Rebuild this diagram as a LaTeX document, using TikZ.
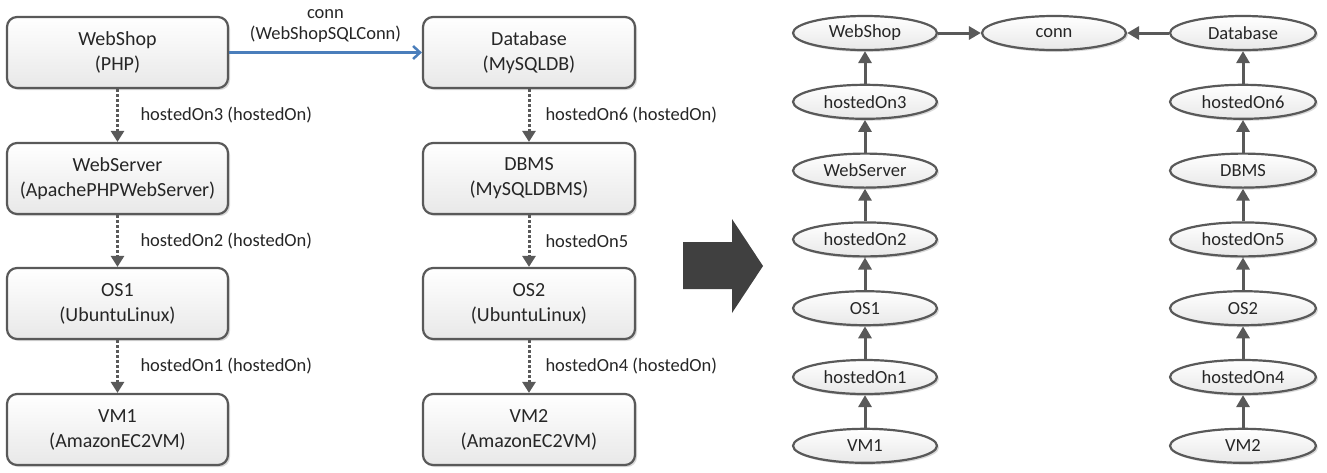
\documentclass[tikz,border=0pt]{standalone}
\usepackage{fontspec}
\setmainfont{Carlito}
\usetikzlibrary{arrows.meta,shadows,shapes.geometric}
\definecolor{edgec}{HTML}{595959}
\definecolor{bluec}{HTML}{4A7EBB}
\definecolor{bigc}{HTML}{404040}
\definecolor{txtc}{HTML}{262626}
\tikzset{
  box/.style={draw=edgec, line width=2.2pt, rounded corners=10pt,
    minimum width=#1, minimum height=71pt, inner sep=0pt,
    top color=white, bottom color=black!9, text=txtc,
    drop shadow={shadow xshift=2pt, shadow yshift=-2pt, opacity=.3},
    align=center, font=\fontsize{20}{25}\selectfont},
  box/.default=221pt,
  ell/.style={ellipse, draw=edgec, line width=2.2pt, minimum width=144pt,
    minimum height=34pt, inner sep=0pt, top color=white, bottom color=black!9,
    text=txtc, drop shadow={shadow xshift=2pt, shadow yshift=-2pt, opacity=.3},
    font=\fontsize{18.5}{22}\selectfont},
  hosted/.style={draw=edgec, line width=3pt, dash pattern=on 3pt off 2pt,
    -{Triangle[length=11pt,width=13pt]}},
  lab/.style={anchor=west, inner sep=0pt, text=txtc, font=\fontsize{18.5}{22}\selectfont},
  garrow/.style={draw=edgec, line width=3pt, -{Triangle[length=12pt,width=13pt]}},
  connarrow/.style={draw=bluec, line width=2.5pt, -{Straight Barb[length=7pt,width=13pt]}}
}
\begin{document}
\begin{tikzpicture}[x=1pt,y=-1pt]
\useasboundingbox (0,0) rectangle (1327,472);
% left column
\node[box] (ws)  at (117.5,52.5)  {WebShop\\(PHP)};
\node[box] (wsv) at (117.5,178.5) {WebServer\\(ApachePHPWebServer)};
\node[box] (os1) at (117.5,303.5) {OS1\\(UbuntuLinux)};
\node[box] (vm1) at (117.5,429.5) {VM1\\(AmazonEC2VM)};
% right column
\node[box=212pt] (db)   at (529,52.5)  {Database\\(MySQLDB)};
\node[box=212pt] (dbms) at (529,178.5) {DBMS\\(MySQLDBMS)};
\node[box=212pt] (os2)  at (529,303.5) {OS2\\(UbuntuLinux)};
\node[box=212pt] (vm2)  at (529,429.5) {VM2\\(AmazonEC2VM)};
% hostedOn edges
\draw[hosted] (ws.south) -- node[lab, xshift=21.5pt] {hostedOn3 (hostedOn)} (wsv.north);
\draw[hosted] (wsv.south) -- node[lab, xshift=21.5pt] {hostedOn2 (hostedOn)} (os1.north);
\draw[hosted] (os1.south) -- node[lab, xshift=21.5pt] {hostedOn1 (hostedOn)} (vm1.north);
\draw[hosted] (db.south) -- node[lab, xshift=15pt] {hostedOn6 (hostedOn)} (dbms.north);
\draw[hosted] (dbms.south) -- node[lab, xshift=15pt] {hostedOn5} (os2.north);
\draw[hosted] (os2.south) -- node[lab, xshift=15pt] {hostedOn4 (hostedOn)} (vm2.north);
% connection
\draw[connarrow] (ws.east) -- node[anchor=south, inner sep=0pt, yshift=8.5pt, align=center, text=txtc, font=\fontsize{18.5}{21}\selectfont] {conn\\(WebShopSQLConn)} (db.west);
% big arrow
\fill[bigc] (683,242) -- (732,242) -- (732,219) -- (763,266) -- (732,313) -- (732,289) -- (683,289) -- cycle;
% graph
\node[ell] (gws)   at (865,33)    {WebShop};
\node[ell] (gh3)   at (865,101.8) {hostedOn3};
\node[ell] (gwsv)  at (865,170.6) {WebServer};
\node[ell] (gh2)   at (865,239.4) {hostedOn2};
\node[ell] (gos1)  at (865,308.2) {OS1};
\node[ell] (gh1)   at (865,377)   {hostedOn1};
\node[ell] (gvm1)  at (865,445.8) {VM1};
\node[ell] (gconn) at (1054,33)   {conn};
\node[ell, minimum width=146pt] (gdb)   at (1243,33)    {Database};
\node[ell, minimum width=146pt] (gh6)   at (1243,101.8) {hostedOn6};
\node[ell, minimum width=146pt] (gdbms) at (1243,170.6) {DBMS};
\node[ell, minimum width=146pt] (gh5)   at (1243,239.4) {hostedOn5};
\node[ell, minimum width=146pt] (gos2)  at (1243,308.2) {OS2};
\node[ell, minimum width=146pt] (gh4)   at (1243,377)   {hostedOn4};
\node[ell, minimum width=146pt] (gvm2)  at (1243,445.8) {VM2};
\draw[garrow] (gh3) -- (gws);
\draw[garrow] (gwsv) -- (gh3);
\draw[garrow] (gh2) -- (gwsv);
\draw[garrow] (gos1) -- (gh2);
\draw[garrow] (gh1) -- (gos1);
\draw[garrow] (gvm1) -- (gh1);
\draw[garrow] (gh6) -- (gdb);
\draw[garrow] (gdbms) -- (gh6);
\draw[garrow] (gh5) -- (gdbms);
\draw[garrow] (gos2) -- (gh5);
\draw[garrow] (gh4) -- (gos2);
\draw[garrow] (gvm2) -- (gh4);
\draw[garrow] (gws) -- (gconn);
\draw[garrow] (gdb) -- (gconn);
\end{tikzpicture}
\end{document}
